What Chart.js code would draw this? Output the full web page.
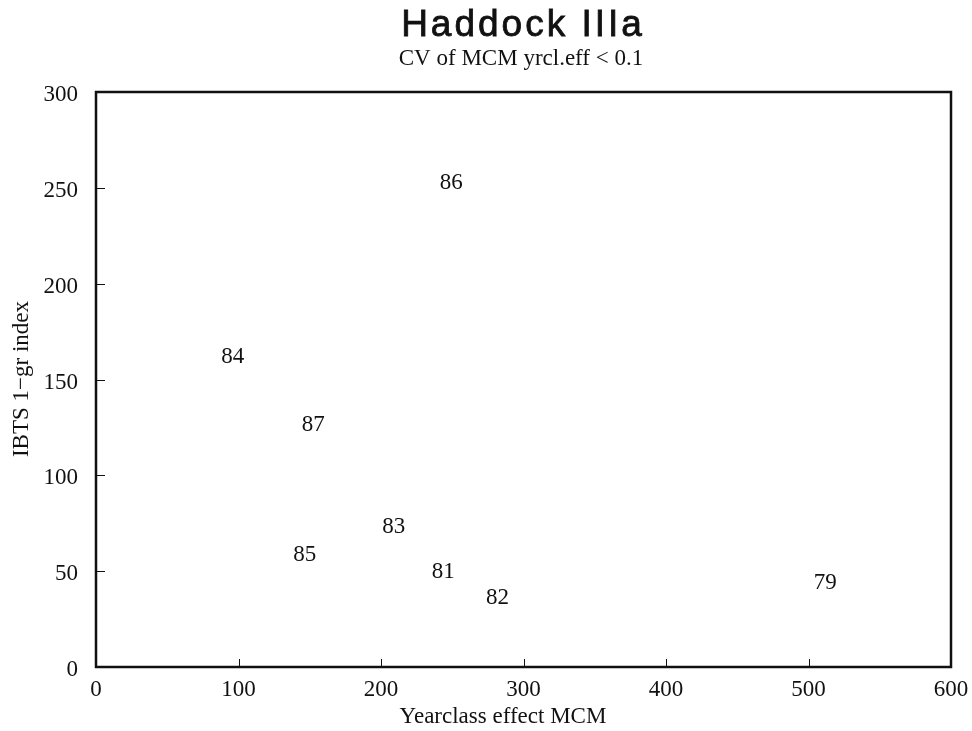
<!DOCTYPE html>
<html>
<head>
<meta charset="utf-8">
<script src="https://cdn.jsdelivr.net/npm/chart.js@4"></script>
<style>
  html, body { margin: 0; padding: 0; background: #fff; }
  #wrap { width: 972px; height: 731px; }
</style>
</head>
<body>
<div id="wrap"><canvas id="chart" width="972" height="731"></canvas></div>
<script>
// year classes (plotted as text instead of markers)
const yearClasses = ['79', '81', '82', '83', '84', '85', '86', '87'];
const yearclassEffect = [511.7, 243.7, 281.8, 209.0, 96.0, 146.5, 249.3, 152.5];
const ibtsIndex = [44.1, 49.7, 35.8, 73.2, 161.9, 58.4, 252.4, 126.3];

const xTicks = [0, 100, 200, 300, 400, 500, 600];
const yTicks = [0, 50, 100, 150, 200, 250, 300];

const SERIF = "'Liberation Serif', 'Times New Roman', serif";
const SANS = "'Liberation Sans', Arial, sans-serif";

const points = yearClasses.map((lab, i) => ({ x: yearclassEffect[i], y: ibtsIndex[i] }));

// draws the year labels at each point, the frame, inward ticks and the titles
const plotDecor = {
  id: 'plotDecor',
  afterDatasetsDraw(chart) {
    const ctx = chart.ctx;
    const area = chart.chartArea;
    const xs = chart.scales.x;
    const ys = chart.scales.y;

    ctx.save();
    // year labels
    ctx.fillStyle = '#111';
    ctx.font = '23px ' + SERIF;
    ctx.textAlign = 'center';
    ctx.textBaseline = 'middle';
    chart.getDatasetMeta(0).data.forEach((el, i) => {
      ctx.fillText(yearClasses[i], el.x, el.y);
    });

    // frame
    ctx.strokeStyle = '#111';
    ctx.lineWidth = 2.5;
    ctx.strokeRect(area.left, area.top, area.right - area.left, area.bottom - area.top);

    // inward ticks
    ctx.lineWidth = 1;
    ctx.beginPath();
    xTicks.slice(1, -1).forEach(v => {
      const px = Math.round(xs.getPixelForValue(v)) + 0.5;
      ctx.moveTo(px, area.bottom);
      ctx.lineTo(px, area.bottom - 8);
    });
    yTicks.slice(1, -1).forEach(v => {
      const py = Math.round(ys.getPixelForValue(v)) + 0.5;
      ctx.moveTo(area.left, py);
      ctx.lineTo(area.left + 9, py);
    });
    ctx.stroke();

    // titles
    ctx.textBaseline = 'alphabetic';
    ctx.font = '37px ' + SANS;
    ctx.letterSpacing = '3px';
    ctx.lineWidth = 0.8;
    ctx.fillText('Haddock IIIa', 523, 36);
    ctx.strokeText('Haddock IIIa', 523, 36);
    ctx.letterSpacing = '0px';
    ctx.font = '23px ' + SERIF;
    ctx.fillText('CV of MCM yrcl.eff < 0.1', 521, 65);
    ctx.fillText('Yearclass effect MCM', 503, 723);

    ctx.translate(28, 379);
    ctx.rotate(-Math.PI / 2);
    ctx.fillText('IBTS 1\u2212gr index', 0, 0);
    ctx.restore();
  }
};

new Chart(document.getElementById('chart'), {
  type: 'scatter',
  data: {
    datasets: [{
      data: points,
      pointRadius: 0,
      pointHoverRadius: 0,
      showLine: false
    }]
  },
  options: {
    responsive: false,
    animation: false,
    events: [],
    layout: { padding: { top: 92, right: 21, left: 0, bottom: 0 } },
    plugins: {
      legend: { display: false },
      tooltip: { enabled: false },
      title: { display: false }
    },
    scales: {
      x: {
        type: 'linear',
        min: 0,
        max: 600,
        afterBuildTicks: s => { s.ticks = xTicks.map(v => ({ value: v })); },
        afterFit: s => { s.height = 64; s.paddingLeft = 0; s.paddingRight = 0; },
        grid: { display: false, drawTicks: false },
        border: { display: false },
        ticks: {
          autoSkip: false,
          maxRotation: 0,
          padding: 9,
          color: '#111',
          font: { family: SERIF, size: 23 }
        }
      },
      y: {
        type: 'linear',
        min: 0,
        max: 300,
        afterBuildTicks: s => { s.ticks = yTicks.map(v => ({ value: v })); },
        afterFit: s => { s.width = 96; s.paddingTop = 0; s.paddingBottom = 0; },
        grid: { display: false, drawTicks: false },
        border: { display: false },
        ticks: {
          padding: 18,
          labelOffset: 3,
          color: '#111',
          font: { family: SERIF, size: 23 }
        }
      }
    }
  },
  plugins: [plotDecor]
});
</script>
</body>
</html>
